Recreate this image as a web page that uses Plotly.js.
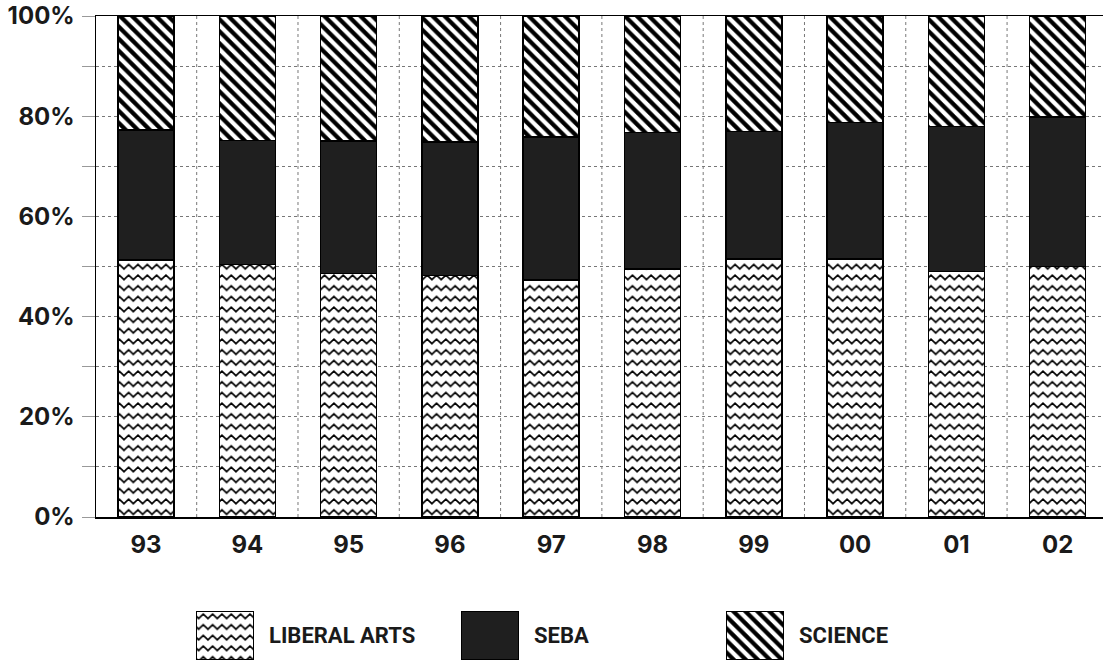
<!DOCTYPE html>
<html>
<head>
<meta charset="utf-8">
<script src="https://cdn.plot.ly/plotly-3.0.1.min.js"></script>
<style>
html,body{margin:0;padding:0;background:#fff;}
#chart{width:1103px;height:663px;}
</style>
</head>
<body>
<div id="chart"></div>
<script>
// ---- data ----
var years = ['93','94','95','96','97','98','99','00','01','02'];
var liberalArts = [51.3, 50.4, 48.6, 48.2, 47.3, 49.5, 51.5, 51.5, 49.0, 50.0];
var seba        = [25.9, 24.8, 26.5, 26.7, 28.6, 27.2, 25.4, 27.2, 28.9, 29.8];
var science     = [22.8, 24.8, 24.9, 25.1, 24.1, 23.3, 23.1, 21.3, 22.1, 20.2];
var seriesNames = ['LIBERAL ARTS', 'SEBA', 'SCIENCE'];
var yTickVals   = [0, 10, 20, 30, 40, 50, 60, 70, 80, 90, 100];
var yTickText   = ['0%', '', '20%', '', '40%', '', '60%', '', '80%', '', '100%'];

// ---- styles ----
var idx = years.map(function(_, i){ return i; });
var lineStyle = {color: '#000', width: 1.5};
var tickFont = {family: 'Inter, "Liberation Sans", Arial, sans-serif', size: 24, color: '#1a1a1a', weight: 'bold'};
var legFont = {family: 'Roboto, "Liberation Sans", Arial, sans-serif', size: 22, color: '#1a1a1a', weight: 'bold'};

function markerFor(k){
  if (k === 0) return {color: '#fff', line: lineStyle, pattern: {shape: '-', fgcolor: '#000', bgcolor: '#fff', size: 10, solidity: 0.15}};
  if (k === 1) return {color: '#1f1f1f', line: lineStyle};
  return {color: '#fff', line: lineStyle, pattern: {shape: '\\', fgcolor: '#000', bgcolor: '#fff', size: 8.5, solidity: 0.5}};
}

var seriesVals = [liberalArts, seba, science];
var data = [];
seriesVals.forEach(function(vals, k){
  data.push({type: 'bar', x: idx, y: vals, name: seriesNames[k], marker: markerFor(k),
             xaxis: 'x', yaxis: 'y', hoverinfo: 'skip', showlegend: false});
});
// legend swatches drawn as bars in their own small subplot
seriesNames.forEach(function(nm, k){
  data.push({type: 'bar', x: [k], y: [1], width: 0.215, name: nm, marker: markerFor(k),
             xaxis: 'x3', yaxis: 'y3', hoverinfo: 'skip', showlegend: false});
});

var shapes = [];
for (var i = 0; i < years.length; i++) {
  shapes.push({type: 'line', xref: 'x', yref: 'y', x0: i + 0.5, x1: i + 0.5, y0: 0, y1: 100,
               line: {color: '#777', width: 1, dash: 'dot'}, layer: 'below'});
}

var annotations = seriesNames.map(function(nm, k){
  return {xref: 'x3', yref: 'y3', x: k, y: 0.5, xshift: 42, xanchor: 'left', yanchor: 'middle',
          text: nm, showarrow: false, font: legFont};
});

var layout = {
  width: 1103, height: 663,
  margin: {l: 96, r: 0, t: 16, b: 3, pad: 0},
  paper_bgcolor: '#fff', plot_bgcolor: 'rgba(0,0,0,0)',
  barmode: 'stack', bargap: 0.447,
  showlegend: false,
  xaxis: {domain: [0, 1], range: [-0.494, 9.447], tickvals: idx, ticktext: years,
          showgrid: false, zeroline: false, showline: true, mirror: true, linecolor: '#000', linewidth: 1.5,
          ticks: '', tickfont: tickFont, ticklabelstandoff: 6, fixedrange: true},
  yaxis: {domain: [0.222, 1], range: [0, 100], tickvals: yTickVals, ticktext: yTickText,
          showgrid: true, gridcolor: '#777', gridwidth: 1, griddash: 'dot',
          zeroline: false, showline: true, linecolor: '#000', linewidth: 1.5,
          ticks: 'outside', ticklen: 13, tickcolor: '#999', tickwidth: 1,
          tickfont: tickFont, ticklabelstandoff: 2, fixedrange: true},
  xaxis3: {domain: [0, 1], anchor: 'y3', range: [-0.4868, 3.3132], visible: false, fixedrange: true},
  yaxis3: {domain: [0, 0.0761], anchor: 'x3', range: [0, 1], visible: false, fixedrange: true},
  shapes: shapes,
  annotations: annotations
};

var gd = document.getElementById('chart');
Plotly.newPlot(gd, data, layout, {staticPlot: true, displayModeBar: false}).then(function(){
  var ns = 'http://www.w3.org/2000/svg';
  var svg = gd.querySelector('svg.main-svg');
  var defs = svg.querySelector('defs');
  var w = 9.33, h = 10.67;
  var pat = document.createElementNS(ns, 'pattern');
  pat.setAttribute('id', 'zigzagpat');
  pat.setAttribute('patternUnits', 'userSpaceOnUse');
  pat.setAttribute('width', w);
  pat.setAttribute('height', h);
  var rect = document.createElementNS(ns, 'rect');
  rect.setAttribute('width', w); rect.setAttribute('height', h); rect.setAttribute('fill', '#fff');
  pat.appendChild(rect);
  var p = document.createElementNS(ns, 'path');
  var hw = w / 2;
  p.setAttribute('d', 'M' + (-hw) + ',3 L0,7.5 L' + hw + ',3 L' + w + ',7.5 L' + (w + hw) + ',3');
  p.setAttribute('stroke', '#000'); p.setAttribute('stroke-width', '1.7'); p.setAttribute('fill', 'none');
  p.setAttribute('stroke-linejoin', 'miter');
  pat.appendChild(p);
  defs.appendChild(pat);
  gd.querySelectorAll('.barlayer .trace.bars').forEach(function(g){
    var d = g.__data__;
    var tr = d && d[0] && d[0].trace;
    if (tr && tr.name === seriesNames[0]) {
      g.querySelectorAll('path').forEach(function(path){
        path.style.fill = 'url(#zigzagpat)';
        path.style.fillOpacity = 1;
      });
    }
  });
});
</script>
</body>
</html>
